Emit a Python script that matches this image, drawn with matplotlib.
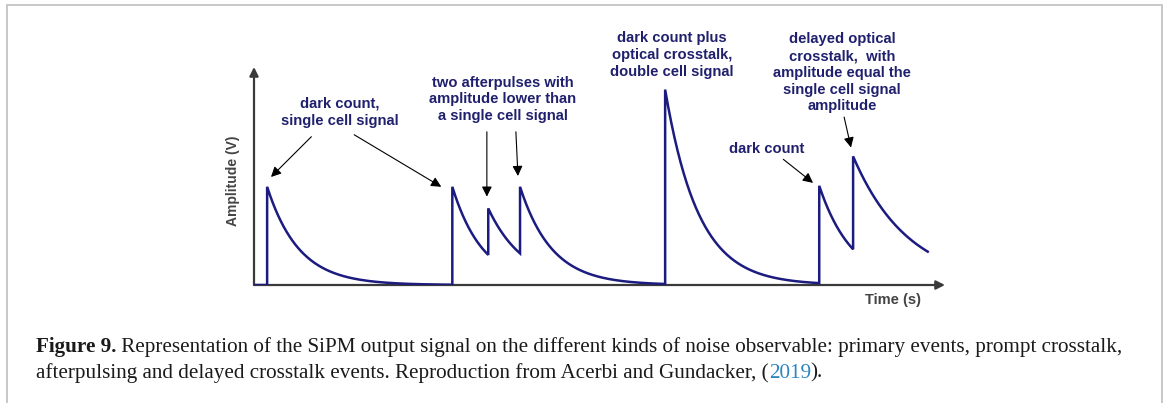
import numpy as np
import matplotlib.pyplot as plt
from matplotlib.patches import Rectangle

# pulse events (time in a.u. 0-100, amplitude in units of one cell)
pulse_start = [1.9, 28.7, 33.9, 38.5, 59.5, 81.8, 86.7]
pulse_peak = [1.0, 1.0, 0.78, 1.0, 1.99, 1.01, 1.31]
pulse_tau = [4.6, 4.4, 5.2, 4.6, 4.8, 4.8, 8.0]
trace_end = 97.5

labels = [
    "dark count,\nsingle cell signal",
    "two afterpulses with\namplitude lower than\na single cell signal",
    "dark count plus\noptical crosstalk,\ndouble cell signal",
    "delayed optical\ncrosstalk,  with\namplitude equal the\nsingle cell signal\namplitude",
    "dark count",
]

caption_bold = "Figure 9."
caption_1 = " Representation of the SiPM output signal on the different kinds of noise observable: primary events, prompt crosstalk,"
caption_2 = "afterpulsing and delayed crosstalk events. Reproduction from Acerbi and Gundacker, ("
caption_year = "2019"
caption_end = ")."

navy = "#1c1c80"
text_navy = "#20206e"
grey = "#3a3a3a"

W, H = 1167, 403
fig = plt.figure(figsize=(W / 100, H / 100), dpi=100)
ax = fig.add_axes([254 / W, 1 - 285 / H, (945 - 254) / W, (285 - 67) / H])
ax.set_xlim(0, 100)
ax.set_ylim(0, 2.22)
ax.axis("off")

# trace: each event resets the signal to its peak, then it decays exponentially
t_all = [0.0, pulse_start[0]]
v_all = [0.0, 0.0]
for i in range(len(pulse_start)):
    t0 = pulse_start[i]
    t1 = pulse_start[i + 1] if i + 1 < len(pulse_start) else trace_end
    t = np.linspace(t0, t1, 200)
    t_all.extend(t)
    v_all.extend(pulse_peak[i] * np.exp(-(t - t0) / pulse_tau[i]))
ax.plot(t_all, v_all, color=navy, lw=1.8, zorder=3, solid_joinstyle="miter")

# axes with arrow heads
arrow_kw = dict(arrowstyle="-|>", color=grey, lw=1.6, mutation_scale=13, shrinkA=0, shrinkB=0)
ax.annotate("", xy=(1, 0), xytext=(0, 0), xycoords="axes fraction", arrowprops=arrow_kw, zorder=2)
ax.annotate("", xy=(0, 1), xytext=(0, 0), xycoords="axes fraction", arrowprops=arrow_kw, zorder=2)

fig.text(233 / W, 1 - 181 / H, "Amplitude (V)", rotation=90, ha="center", va="center",
         family="Liberation Sans", fontsize=10, fontweight="bold", color="#444444")
fig.text(893 / W, 1 - 300 / H, "Time (s)", ha="center", va="center",
         family="Liberation Sans", fontsize=10.5, fontweight="bold", color="#444444")

# annotation texts
label_pos = [(12.4, 1.76), (36.0, 1.89), (60.5, 2.34), (85.1, 2.16), (74.2, 1.39)]
for s, (x, y) in zip(labels, label_pos):
    ax.text(x, y, s, ha="center", va="center", multialignment="center", linespacing=1.25,
            family="Liberation Sans", fontweight="bold", fontsize=10.6, color=text_navy)

arrows = [
    ((8.3, 1.51), (2.46, 1.10)),
    ((14.5, 1.53), (27.1, 1.00)),
    ((33.7, 1.56), (33.7, 0.90)),
    ((37.9, 1.56), (38.2, 1.11)),
    ((76.6, 1.28), (80.9, 1.04)),
    ((85.4, 1.71), (86.4, 1.40)),
]
for tail, tip in arrows:
    ax.annotate("", xy=tip, xytext=tail,
                arrowprops=dict(arrowstyle="-|>", color="black", lw=0.8, mutation_scale=15,
                                shrinkA=0, shrinkB=0))

# caption
cap_kw = dict(family="Liberation Serif", fontsize=15.2, color="#1a1a1a")
t1 = fig.text(36 / W, 1 - 347 / H, caption_bold, fontweight="bold", va="center", **cap_kw)
ax.annotate(caption_1, xy=(1, 0), xycoords=t1, va="bottom", ha="left", annotation_clip=False, **cap_kw)
t2 = fig.text(36 / W, 1 - 373 / H, caption_2, va="center", **cap_kw)
t3 = ax.annotate(caption_year, xy=(1, 0), xycoords=t2, va="bottom", ha="left",
                 annotation_clip=False, **{**cap_kw, "color": "#2a86c0"})
ax.annotate(caption_end, xy=(1, 0), xycoords=t3, va="bottom", ha="left", annotation_clip=False, **cap_kw)

# frame around the figure
fig.patches.append(Rectangle((7 / W, -0.1), (1162 - 7) / W, 1.1 - 5 / H, transform=fig.transFigure,
                             fill=False, ec="#c4c4c4", lw=1.3))

fig.savefig("out.png", dpi=100)
